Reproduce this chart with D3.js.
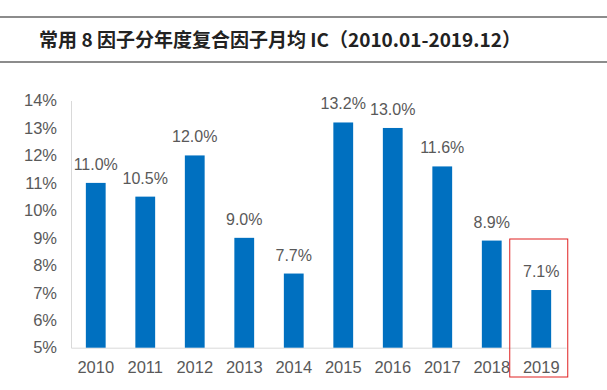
<!DOCTYPE html>
<html><head><meta charset="utf-8">
<script src="https://cdn.jsdelivr.net/npm/d3@7"></script>
<style>body{margin:0;background:#fff}</style>
</head><body>
<svg id="c" width="607" height="390"></svg>
<script>
const title = "常用 8 因子分年度复合因子月均 IC（2010.01-2019.12）";
const years = ["2010","2011","2012","2013","2014","2015","2016","2017","2018","2019"];
const values = [11.0, 10.5, 12.0, 9.0, 7.7, 13.2, 13.0, 11.6, 8.9, 7.1];
const yTicks = [5,6,7,8,9,10,11,12,13,14];
const highlightYear = "2019";

const svg = d3.select("#c");
svg.append("rect").attr("width",607).attr("height",390).attr("fill","#fff");

// title band
svg.append("line").attr("x1",0).attr("x2",607).attr("y1",17).attr("y2",17).attr("stroke","#666").attr("stroke-width",1.5);
svg.append("line").attr("x1",0).attr("x2",607).attr("y1",62).attr("y2",62).attr("stroke","#666").attr("stroke-width",1.5);
svg.append("text").attr("x",280).attr("y",47).attr("text-anchor","middle")
  .attr("font-family","'Noto Sans CJK SC', sans-serif").attr("font-weight","bold")
  .attr("font-size",19).attr("fill","#222").text(title);

const x = d3.scaleBand().domain(years).range([71,566]).paddingInner(0.6).paddingOuter(0.3);
const y = d3.scaleLinear().domain([5,14]).range([347.7,100.5]);

const font = "'Liberation Sans', Arial, sans-serif";
// y axis
const ya = svg.append("g").attr("transform","translate(71,0)")
  .call(d3.axisLeft(y).tickValues(yTicks).tickFormat(d=>d+"%").tickSize(0).tickPadding(14));
ya.select(".domain").attr("stroke","#d9d9d9");
ya.selectAll("text").attr("font-family",font).attr("font-size",16.5).attr("fill","#595959");
ya.selectAll(".tick line").remove();

// x axis
const xa = svg.append("g").attr("transform","translate(0,347.7)")
  .call(d3.axisBottom(x).tickSize(0).tickPadding(14).tickSizeOuter(0));
xa.select(".domain").attr("stroke","#d9d9d9");
xa.selectAll("text").attr("font-family",font).attr("font-size",16.5).attr("fill","#595959");

// bars
svg.append("g").selectAll("rect").data(years).join("rect")
  .attr("x",d=>x(d)).attr("width",x.bandwidth())
  .attr("y",(d,i)=>y(values[i])).attr("height",(d,i)=>y(5)-y(values[i]))
  .attr("fill","#0070C0");

// labels
svg.append("g").selectAll("text").data(years).join("text")
  .attr("x",d=>x(d)+x.bandwidth()/2).attr("y",(d,i)=>y(values[i])-13)
  .attr("text-anchor","middle").attr("font-family",font).attr("font-size",16).attr("fill","#595959")
  .text((d,i)=>values[i].toFixed(1)+"%");

// highlight box
const hb = x(highlightYear)+x.bandwidth()/2;
svg.append("rect").attr("x",hb-31.5).attr("y",239).attr("width",58).attr("height",138)
  .attr("fill","none").attr("stroke","#e02020").attr("stroke-width",1);
</script>
</body></html>
